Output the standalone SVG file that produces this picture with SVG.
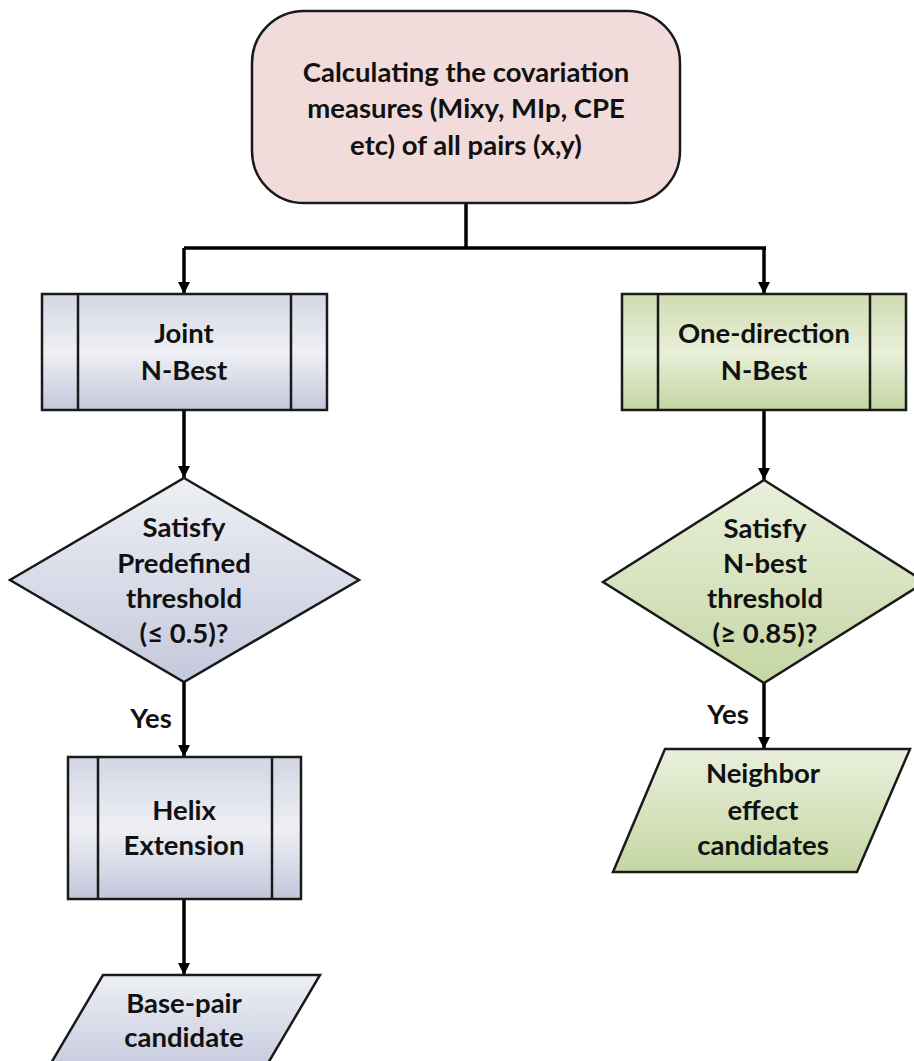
<svg xmlns="http://www.w3.org/2000/svg" width="914" height="1061" viewBox="0 0 914 1061">
<style>
.t{font-family:Lato,"Open Sans","Liberation Sans",sans-serif;font-weight:bold;font-size:27.5px;fill:#111;text-anchor:middle}
.s{stroke:#1a1a1a;stroke-width:2.5}
.c{fill:none;stroke:#000;stroke-width:3.5}
</style>
<defs>
<linearGradient id="gb" x1="0" y1="0" x2="0" y2="1">
<stop offset="0" stop-color="#d2d5e3"/><stop offset="0.5" stop-color="#eff0f5"/><stop offset="1" stop-color="#c3c7da"/>
</linearGradient>
<linearGradient id="gg" x1="0" y1="0" x2="0" y2="1">
<stop offset="0" stop-color="#cfdcb0"/><stop offset="0.5" stop-color="#e9efd9"/><stop offset="1" stop-color="#c4d5a1"/>
</linearGradient>
<linearGradient id="db" x1="0" y1="0" x2="0" y2="1">
<stop offset="0" stop-color="#eef0f5"/><stop offset="1" stop-color="#c4c8dc"/>
</linearGradient>
<linearGradient id="dg" x1="0" y1="0" x2="0" y2="1">
<stop offset="0" stop-color="#eaf0dc"/><stop offset="1" stop-color="#c5d6a3"/>
</linearGradient>
<marker id="ah" markerWidth="12" markerHeight="12" viewBox="0 0 12 12" refX="12" refY="6" orient="auto" markerUnits="userSpaceOnUse">
<path d="M0,0 L12,6 L0,12 Z" fill="#000"/>
</marker>
</defs>

<g id="connectors">
<path class="c" d="M466,203 V248"/>
<path class="c" d="M184,248 H766"/>
<path class="c" d="M184,248 V294" marker-end="url(#ah)"/>
<path class="c" d="M764,248 V294" marker-end="url(#ah)"/>
<path class="c" d="M184,410 V478" marker-end="url(#ah)"/>
<path class="c" d="M764,410 V480" marker-end="url(#ah)"/>
<path class="c" d="M184,682 V757" marker-end="url(#ah)"/>
<path class="c" d="M764,683 V749" marker-end="url(#ah)"/>
<path class="c" d="M184,899 V975" marker-end="url(#ah)"/>
<text class="t" x="151" y="728">Yes</text>
<text class="t" x="728" y="724">Yes</text>
</g>

<g id="start">
<rect class="s" x="252" y="11" width="428" height="192" rx="52" ry="52" fill="#f2dcdb"/>
<text class="t" x="466" y="82">Calculating the covariation</text>
<text class="t" x="466" y="118">measures (Mixy, MIp, CPE</text>
<text class="t" x="466" y="155">etc) of all pairs (x,y)</text>
</g>

<g id="joint">
<rect class="s" x="42" y="294" width="285" height="116" fill="url(#gb)"/>
<path class="s" d="M78,294 V410 M291,294 V410"/>
<text class="t" x="184" y="343">Joint</text>
<text class="t" x="184" y="380">N-Best</text>
</g>

<g id="onedir">
<rect class="s" x="622" y="294" width="284" height="116" fill="url(#gg)"/>
<path class="s" d="M658,294 V410 M870,294 V410"/>
<text class="t" x="764" y="343">One-direction</text>
<text class="t" x="764" y="380">N-Best</text>
</g>

<g id="diamond-left">
<path class="s" d="M184,478 L359,580 L184,682 L10,580 Z" fill="url(#db)"/>
<text class="t" x="184" y="537">Satisfy</text>
<text class="t" x="184" y="573">Predefined</text>
<text class="t" x="184" y="608">threshold</text>
<text class="t" x="184" y="643">(≤ 0.5)?</text>
</g>

<g id="diamond-right">
<path class="s" d="M764,480 L925,582 L764,683 L603,582 Z" fill="url(#dg)"/>
<text class="t" x="765" y="538">Satisfy</text>
<text class="t" x="765" y="573">N-best</text>
<text class="t" x="765" y="608">threshold</text>
<text class="t" x="765" y="643">(≥ 0.85)?</text>
</g>

<g id="helix">
<rect class="s" x="68" y="757" width="233" height="142" fill="url(#gb)"/>
<path class="s" d="M98,757 V899 M272,757 V899"/>
<text class="t" x="184" y="820">Helix</text>
<text class="t" x="184" y="855">Extension</text>
</g>

<g id="basepair">
<path class="s" d="M103,975 L320,975 L261,1075 L44,1075 Z" fill="url(#db)"/>
<text class="t" x="184" y="1013">Base-pair</text>
<text class="t" x="184" y="1047">candidate</text>
</g>

<g id="neighbor">
<path class="s" d="M665,749 L910,749 L857,872 L613,872 Z" fill="url(#dg)"/>
<text class="t" x="763" y="783">Neighbor</text>
<text class="t" x="763" y="820">effect</text>
<text class="t" x="763" y="855">candidates</text>
</g>
</svg>
